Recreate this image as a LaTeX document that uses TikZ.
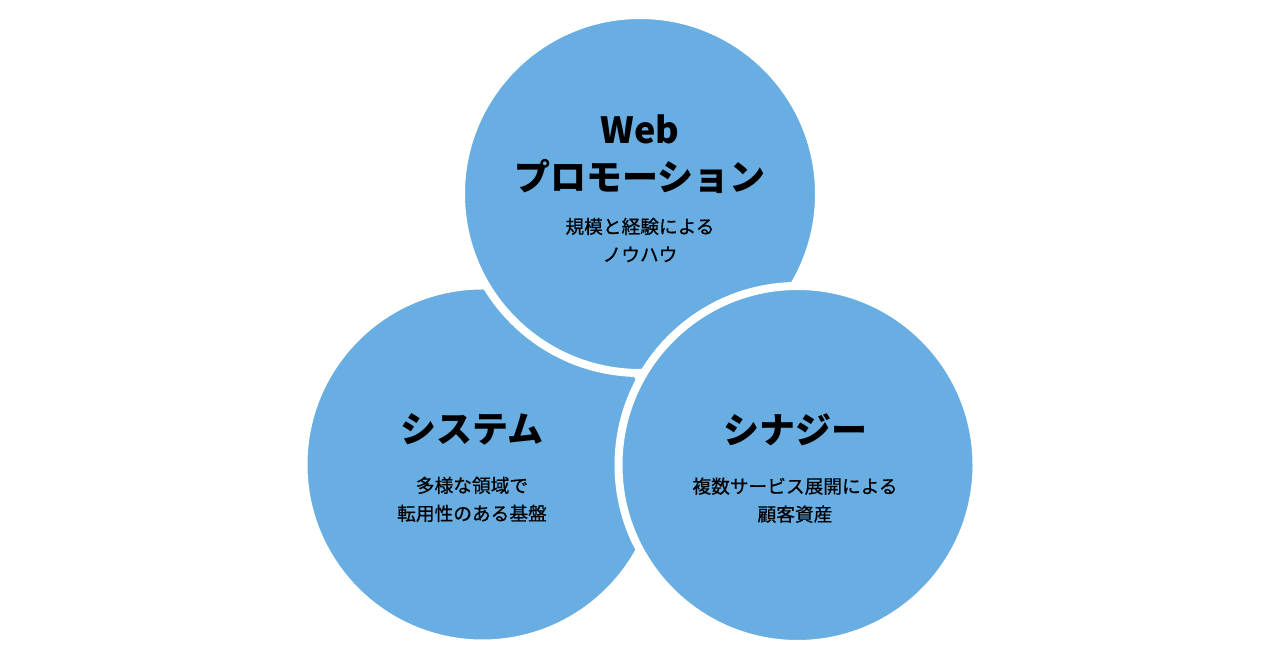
\documentclass[tikz,border=0pt]{standalone}
\usepackage{fontspec}
\setmainfont{Noto Sans CJK JP}
\newfontfamily\subfont{Noto Sans CJK JP}[FakeBold=0.6]
\usetikzlibrary{positioning}
\definecolor{circblue}{RGB}{104,174,227}

\begin{document}
\begin{tikzpicture}[x=1pt,y=1pt,
        venn/.style={circle, fill=circblue, draw=white, line width=8pt, minimum size=358pt, inner sep=0pt},
        headtxt/.style={font=\fontsize{36}{47}\selectfont\bfseries, align=center, inner sep=0pt},
        subtxt/.style={font=\subfont\fontsize{18.7}{28}\selectfont, align=center, inner sep=0pt}]
        \useasboundingbox (0,0) rectangle (1280,660);
        % circles %
        \node[venn] (sys) at (482.5,195.5) {};
        \node[venn] (web) at (640,466) {};
        \node[venn] (syn) at (797.5,195) {};
        % texts %
        \node[headtxt] (webt) at ([yshift=40]web.center) {Web\\プロモーション};
        \node[subtxt, below=24pt of webt] (webs) {規模と経験による\\ノウハウ};
        \node[headtxt] (syst) at ([xshift=-10.5,yshift=35]sys.center) {システム};
        \node[subtxt, below=31pt of syst] (syss) {多様な領域で\\転用性のある基盤};
        \node[headtxt] (synt) at ([xshift=-2.5,yshift=35]syn.center) {シナジー};
        \node[subtxt, below=31pt of synt] (syns) {複数サービス展開による\\顧客資産};
\end{tikzpicture}
\end{document}
